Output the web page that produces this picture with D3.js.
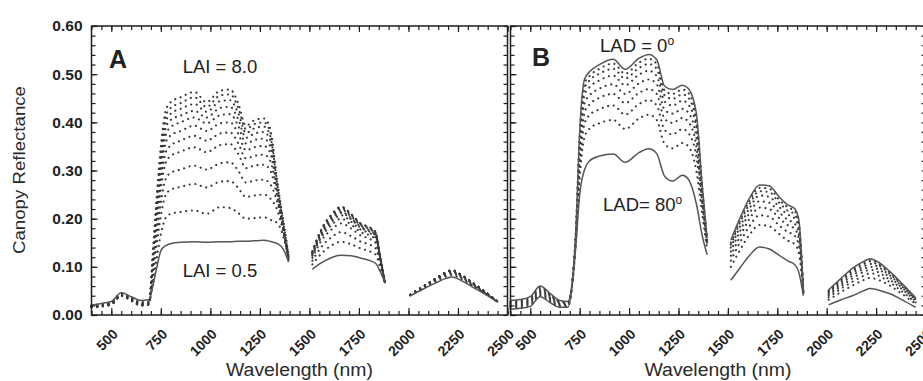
<!DOCTYPE html>
<html><head><meta charset="utf-8">
<script src="https://cdn.jsdelivr.net/npm/d3@7"></script>
<style>
body{margin:0;background:#fff}
svg{display:block;font-family:"Liberation Sans",Arial,sans-serif}
</style>
</head><body>
<svg id="chart" width="923" height="381"></svg>
<script>
// ---------- DATA ----------
const wlNIR   = [400,450,500,550,600,650,690,710,730,750,775,800,850,920,980,1050,1100,1140,1180,1220,1270,1300,1340,1370,1395];
const wlSWIR1 = [1515,1560,1610,1660,1710,1760,1805,1835,1858,1882];
const wlSWIR2 = [2010,2070,2130,2190,2220,2260,2320,2380,2450];

const laiValues = ["0.5","1.0","1.5","2.0","2.5","3.0","3.5","4.0","5.0","6.0","7.0","8.0"];
const laiNIR = [
 [0.021,0.024,0.028,0.046,0.038,0.030,0.032,0.060,0.100,0.133,0.144,0.148,0.151,0.152,0.151,0.152,0.152,0.153,0.153,0.154,0.155,0.153,0.148,0.135,0.110],
 [0.020,0.023,0.027,0.045,0.036,0.027,0.028,0.068,0.120,0.168,0.202,0.210,0.214,0.217,0.210,0.224,0.222,0.212,0.200,0.201,0.203,0.198,0.190,0.160,0.114],
 [0.019,0.022,0.026,0.044,0.035,0.025,0.026,0.080,0.148,0.206,0.250,0.260,0.266,0.272,0.265,0.277,0.278,0.264,0.245,0.248,0.250,0.243,0.215,0.168,0.116],
 [0.019,0.021,0.025,0.043,0.034,0.024,0.025,0.090,0.168,0.233,0.283,0.295,0.302,0.310,0.302,0.315,0.317,0.300,0.275,0.279,0.281,0.273,0.230,0.172,0.117],
 [0.018,0.020,0.024,0.042,0.033,0.023,0.024,0.099,0.187,0.261,0.317,0.330,0.339,0.348,0.338,0.353,0.355,0.335,0.305,0.310,0.312,0.302,0.240,0.175,0.118],
 [0.018,0.020,0.024,0.042,0.032,0.022,0.024,0.105,0.200,0.278,0.338,0.352,0.362,0.372,0.362,0.377,0.379,0.357,0.325,0.330,0.333,0.322,0.248,0.178,0.119],
 [0.017,0.019,0.023,0.041,0.031,0.021,0.023,0.111,0.211,0.295,0.358,0.373,0.382,0.393,0.382,0.398,0.400,0.377,0.342,0.348,0.351,0.339,0.254,0.180,0.120],
 [0.017,0.019,0.023,0.041,0.031,0.021,0.023,0.116,0.221,0.308,0.374,0.390,0.400,0.410,0.398,0.415,0.417,0.393,0.356,0.363,0.366,0.352,0.258,0.182,0.121],
 [0.017,0.018,0.022,0.040,0.030,0.020,0.022,0.120,0.229,0.320,0.389,0.405,0.414,0.424,0.410,0.430,0.432,0.407,0.368,0.376,0.380,0.365,0.262,0.184,0.122],
 [0.016,0.018,0.022,0.040,0.030,0.020,0.022,0.124,0.237,0.331,0.401,0.418,0.428,0.438,0.422,0.444,0.446,0.420,0.378,0.387,0.391,0.375,0.266,0.186,0.123],
 [0.016,0.018,0.022,0.040,0.030,0.020,0.022,0.127,0.244,0.340,0.413,0.430,0.440,0.452,0.432,0.456,0.458,0.431,0.386,0.396,0.400,0.383,0.268,0.188,0.124],
 [0.016,0.018,0.022,0.040,0.030,0.020,0.022,0.130,0.250,0.350,0.425,0.442,0.452,0.463,0.442,0.466,0.468,0.440,0.393,0.404,0.408,0.390,0.270,0.190,0.125]
];
const laiSWIR1 = [
 [0.095,0.108,0.119,0.124,0.123,0.118,0.113,0.107,0.090,0.066],
 [0.105,0.127,0.144,0.152,0.147,0.138,0.132,0.125,0.098,0.066],
 [0.113,0.141,0.161,0.172,0.164,0.152,0.146,0.138,0.104,0.066],
 [0.119,0.154,0.177,0.190,0.180,0.165,0.158,0.149,0.110,0.066],
 [0.123,0.161,0.186,0.200,0.188,0.172,0.165,0.156,0.113,0.066],
 [0.125,0.165,0.192,0.207,0.194,0.177,0.170,0.160,0.115,0.066],
 [0.127,0.169,0.196,0.212,0.199,0.181,0.173,0.164,0.116,0.066],
 [0.128,0.171,0.199,0.215,0.201,0.183,0.175,0.166,0.117,0.066],
 [0.130,0.174,0.203,0.219,0.205,0.186,0.178,0.168,0.118,0.066],
 [0.131,0.176,0.205,0.222,0.207,0.188,0.180,0.170,0.119,0.066],
 [0.132,0.177,0.207,0.224,0.209,0.189,0.181,0.171,0.120,0.066],
 [0.132,0.178,0.208,0.225,0.210,0.190,0.182,0.172,0.120,0.066]
];
const laiSWIR2 = [
 [0.040,0.053,0.065,0.076,0.079,0.073,0.059,0.045,0.027],
 [0.041,0.054,0.068,0.080,0.083,0.076,0.062,0.046,0.027],
 [0.041,0.055,0.069,0.082,0.086,0.079,0.063,0.047,0.027],
 [0.041,0.056,0.071,0.084,0.088,0.081,0.065,0.048,0.028],
 [0.042,0.057,0.072,0.086,0.090,0.082,0.066,0.049,0.028],
 [0.042,0.057,0.072,0.087,0.091,0.083,0.067,0.049,0.028],
 [0.042,0.058,0.073,0.088,0.092,0.084,0.067,0.050,0.028],
 [0.042,0.058,0.073,0.088,0.092,0.084,0.068,0.050,0.028],
 [0.042,0.058,0.074,0.089,0.093,0.085,0.068,0.050,0.028],
 [0.042,0.058,0.074,0.089,0.093,0.085,0.068,0.050,0.028],
 [0.042,0.058,0.074,0.089,0.093,0.085,0.068,0.050,0.028],
 [0.042,0.058,0.074,0.089,0.093,0.085,0.068,0.050,0.028]
];

const ladValues = [0,10,20,30,40,50,60,70,80];
const ladNIR = [
 [0.030,0.032,0.038,0.060,0.045,0.030,0.028,0.060,0.170,0.380,0.490,0.505,0.520,0.531,0.510,0.533,0.541,0.530,0.475,0.468,0.477,0.470,0.420,0.270,0.160],
 [0.028,0.030,0.036,0.058,0.043,0.028,0.027,0.060,0.168,0.372,0.481,0.496,0.511,0.522,0.501,0.524,0.532,0.521,0.466,0.459,0.468,0.461,0.410,0.265,0.158],
 [0.026,0.028,0.034,0.055,0.041,0.027,0.026,0.059,0.165,0.362,0.471,0.487,0.501,0.511,0.491,0.513,0.521,0.511,0.456,0.449,0.458,0.451,0.400,0.260,0.156],
 [0.024,0.026,0.031,0.052,0.039,0.025,0.024,0.058,0.162,0.350,0.457,0.473,0.487,0.497,0.477,0.499,0.507,0.496,0.443,0.435,0.445,0.437,0.390,0.252,0.153],
 [0.021,0.024,0.029,0.049,0.036,0.023,0.022,0.057,0.158,0.335,0.440,0.456,0.470,0.479,0.459,0.481,0.489,0.479,0.426,0.418,0.428,0.420,0.370,0.245,0.150],
 [0.019,0.021,0.026,0.046,0.034,0.021,0.021,0.057,0.155,0.320,0.421,0.437,0.451,0.459,0.440,0.461,0.469,0.459,0.407,0.399,0.409,0.401,0.352,0.237,0.147],
 [0.017,0.019,0.023,0.043,0.031,0.019,0.019,0.056,0.152,0.305,0.398,0.415,0.427,0.435,0.416,0.438,0.446,0.435,0.384,0.375,0.386,0.378,0.330,0.226,0.143],
 [0.014,0.016,0.020,0.040,0.028,0.017,0.017,0.055,0.148,0.285,0.370,0.387,0.398,0.405,0.386,0.408,0.416,0.405,0.355,0.346,0.357,0.350,0.300,0.210,0.137],
 [0.012,0.014,0.018,0.038,0.026,0.016,0.016,0.054,0.140,0.250,0.302,0.320,0.330,0.334,0.317,0.337,0.345,0.335,0.288,0.278,0.290,0.282,0.232,0.165,0.125]
];
const ladSWIR1 = [
 [0.155,0.200,0.243,0.270,0.268,0.245,0.228,0.222,0.200,0.050],
 [0.150,0.195,0.238,0.264,0.262,0.239,0.223,0.217,0.195,0.050],
 [0.146,0.190,0.231,0.257,0.255,0.233,0.216,0.210,0.189,0.049],
 [0.140,0.182,0.222,0.248,0.245,0.224,0.208,0.202,0.181,0.048],
 [0.132,0.173,0.212,0.236,0.233,0.213,0.197,0.191,0.171,0.047],
 [0.123,0.162,0.200,0.223,0.220,0.201,0.186,0.180,0.160,0.046],
 [0.113,0.150,0.185,0.207,0.204,0.186,0.172,0.166,0.146,0.045],
 [0.100,0.134,0.167,0.187,0.184,0.168,0.154,0.148,0.130,0.044],
 [0.072,0.097,0.124,0.141,0.137,0.124,0.112,0.106,0.090,0.040]
];
const ladSWIR2 = [
 [0.052,0.075,0.097,0.112,0.117,0.110,0.090,0.066,0.036],
 [0.051,0.073,0.094,0.109,0.114,0.107,0.088,0.064,0.035],
 [0.049,0.071,0.091,0.106,0.111,0.104,0.085,0.063,0.034],
 [0.047,0.067,0.087,0.101,0.106,0.100,0.082,0.060,0.033],
 [0.044,0.063,0.082,0.096,0.100,0.095,0.078,0.057,0.031],
 [0.041,0.059,0.076,0.090,0.094,0.089,0.073,0.054,0.029],
 [0.037,0.054,0.069,0.082,0.087,0.082,0.068,0.049,0.026],
 [0.032,0.047,0.061,0.073,0.077,0.073,0.061,0.044,0.023],
 [0.021,0.031,0.040,0.051,0.055,0.052,0.044,0.032,0.016]
];

const xTickLabels = [500,750,1000,1250,1500,1750,2000,2250,2500];
const xMinorTicks = d3.range(400, 2501, 50);
const yTickLabels = [0.00,0.10,0.20,0.30,0.40,0.50,0.60];
const yMinorTicks = d3.range(0, 0.601, 0.02);

// ---------- DRAW ----------
const svg = d3.select("#chart");
const FONT = '"Liberation Sans",Arial,sans-serif';
const INK = "#1e1e1e";
const y = d3.scaleLinear().domain([0, 0.6]).range([315, 26]);

const panels = [
  { name: "A", x: d3.scaleLinear().domain([400, 2500]).range([91.5, 507.5]),
    nir: laiNIR, s1: laiSWIR1, s2: laiSWIR2,
    solid: i => i === 0, yLabels: true },
  { name: "B", x: d3.scaleLinear().domain([400, 2500]).range([510.5, 925.5]),
    nir: ladNIR, s1: ladSWIR1, s2: ladSWIR2,
    solid: i => i === 0 || i === ladValues.length - 1, yLabels: false }
];

panels.forEach(p => {
  const g = svg.append("g");
  const [x0, x1] = p.x.range();
  const line = d3.line().x(d => p.x(d[0])).y(d => y(d[1])).curve(d3.curveMonotoneX);

  const curves = g.append("g");
  const order = d3.range(p.nir.length).sort((a, b) => (p.solid(a) ? 1 : 0) - (p.solid(b) ? 1 : 0));
  order.forEach(i => {
    [[wlNIR, p.nir[i]], [wlSWIR1, p.s1[i]], [wlSWIR2, p.s2[i]]].forEach(([wl, vals]) => {
      const path = curves.append("path")
        .attr("d", line(wl.map((w, k) => [w, vals[k]])))
        .attr("fill", "none");
      if (p.solid(i)) {
        path.attr("stroke", "#555").attr("stroke-width", 1.5);
      } else {
        path.attr("stroke", "#3a3a3a").attr("stroke-width", 2.1)
          .attr("stroke-dasharray", "0.1,5.6").attr("stroke-linecap", "round");
      }
    });
  });

  // axes (ticks inward)
  const axes = g.append("g").attr("color", INK);
  axes.append("g").attr("transform", `translate(0,${y(0)})`)
    .call(d3.axisBottom(p.x).tickValues(xMinorTicks).tickSizeInner(-4).tickSizeOuter(0).tickFormat(""));
  const bottom = axes.append("g").attr("transform", `translate(0,${y(0)})`)
    .call(d3.axisBottom(p.x).tickValues(xTickLabels).tickSizeInner(-7).tickSizeOuter(0).tickFormat(d3.format("d")));
  axes.append("g").attr("transform", `translate(0,${y(0.6)})`)
    .call(d3.axisTop(p.x).tickValues(xMinorTicks).tickSizeInner(-4).tickSizeOuter(0).tickFormat(""));
  axes.append("g").attr("transform", `translate(0,${y(0.6)})`)
    .call(d3.axisTop(p.x).tickValues(xTickLabels).tickSizeInner(-6).tickSizeOuter(0).tickFormat(""));
  axes.append("g").attr("transform", `translate(${x0},0)`)
    .call(d3.axisLeft(y).tickValues(yMinorTicks).tickSizeInner(-4).tickSizeOuter(0).tickFormat(""));
  const left = axes.append("g").attr("transform", `translate(${x0},0)`)
    .call(d3.axisLeft(y).tickValues(yTickLabels).tickSizeInner(-6).tickSizeOuter(0)
      .tickFormat(p.yLabels ? d3.format(".2f") : () => ""));
  axes.append("g").attr("transform", `translate(${x1},0)`)
    .call(d3.axisRight(y).tickValues(yMinorTicks).tickSizeInner(-4).tickSizeOuter(0).tickFormat(""));
  axes.selectAll(".domain").remove();
  axes.selectAll(".tick line").attr("stroke-width", 1.2);

  bottom.selectAll(".tick text")
    .attr("x", 0).attr("y", 0).attr("dy", 0)
    .attr("text-anchor", "end")
    .attr("transform", "translate(7,20) rotate(-45)")
    .attr("font-family", FONT).attr("font-size", 14).attr("font-weight", "bold").attr("fill", "#222");
  left.selectAll(".tick text")
    .attr("x", -9)
    .attr("font-family", FONT).attr("font-size", 15.5).attr("font-weight", "bold").attr("fill", "#222");

  g.append("rect").attr("x", x0).attr("y", y(0.6)).attr("width", x1 - x0).attr("height", y(0) - y(0.6))
    .attr("fill", "none").attr("stroke", INK).attr("stroke-width", 1.5);

  g.append("text").attr("x", (x0 + x1) / 2).attr("y", 376).attr("text-anchor", "middle")
    .attr("font-family", FONT).attr("font-size", 18).attr("fill", "#2a2a2a")
    .attr("textLength", 147).attr("lengthAdjust", "spacingAndGlyphs")
    .text("Wavelength (nm)");
});

// y axis title
svg.append("text").attr("transform", "translate(25,170) rotate(-90)")
  .attr("text-anchor", "middle").attr("font-family", FONT).attr("font-size", 17).attr("fill", "#2a2a2a")
  .attr("textLength", 168).attr("lengthAdjust", "spacingAndGlyphs")
  .text("Canopy Reflectance");

// panel letters and annotations
const ann = svg.append("g").attr("font-family", FONT).attr("fill", "#222");
ann.append("text").attr("x", 109).attr("y", 68).attr("font-size", 25).attr("font-weight", "bold").text("A");
ann.append("text").attr("x", 532).attr("y", 66).attr("font-size", 25).attr("font-weight", "bold").text("B");
ann.append("text").attr("x", 220).attr("y", 73).attr("text-anchor", "middle").attr("font-size", 18.5)
  .text("LAI = " + laiValues[laiValues.length - 1]);
ann.append("text").attr("x", 220).attr("y", 277).attr("text-anchor", "middle").attr("font-size", 18.5)
  .text("LAI = " + laiValues[0]);
const t0 = ann.append("text").attr("x", 600).attr("y", 52).attr("font-size", 18.5);
t0.append("tspan").text("LAD = " + ladValues[0]);
t0.append("tspan").attr("dy", -7).attr("font-size", 12).text("o");
const t1 = ann.append("text").attr("x", 603).attr("y", 211).attr("font-size", 18.5);
t1.append("tspan").text("LAD= " + ladValues[ladValues.length - 1]);
t1.append("tspan").attr("dy", -7).attr("font-size", 12).text("o");
</script>
</body></html>
